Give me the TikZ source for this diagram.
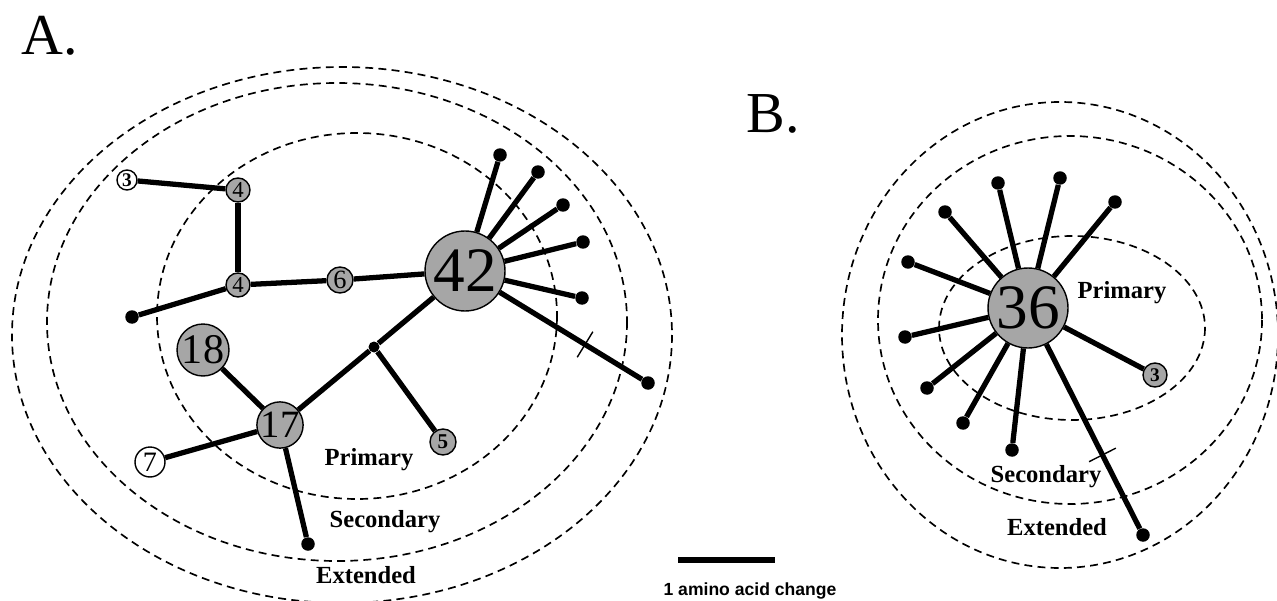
\documentclass[tikz,border=0pt]{standalone}
\usepackage{fontspec}
\setmainfont{Liberation Serif}
\setsansfont{Liberation Sans}
\usetikzlibrary{positioning}
\definecolor{HapGray}{HTML}{A6A6A6}

\begin{document}
\begin{tikzpicture}[x=0.02cm, y=-0.02cm, hapnode/.style={circle, draw, line width=0.8pt, fill=HapGray, inner sep=0pt}, hapwhite/.style={hapnode, fill=white}, tipdot/.style={circle, fill=black, inner sep=0pt, minimum size=0.27cm}, jdot/.style={tipdot, minimum size=0.22cm}, link/.style={line width=3pt}, zone/.style={dashed, dash pattern=on 4.5pt off 3pt, line width=0.95pt}, zonelabel/.style={font=\bfseries\fontsize{14}{14}\selectfont}, tickmark/.style={sloped, draw, line width=0.8pt, inner sep=0pt, minimum width=0pt, minimum height=0.6cm}, panel/.style={font=\fontsize{33}{33}\selectfont}]
\useasboundingbox (0,0) rectangle (1277,601);
\draw[zone] (357,316) ellipse [x radius=200, y radius=183];
\draw[zone] (337,322) ellipse [x radius=290, y radius=239];
\draw[zone] (342,335) ellipse [x radius=330, y radius=268];
\draw[zone] (1072,328) ellipse [x radius=133, y radius=92];
\draw[zone] (1070,320) ellipse [x radius=192, y radius=184];
\draw[zone] (1060,335) ellipse [x radius=218, y radius=233];
\node[panel] (lblA) at (50,36) {A.};
\node[panel] (lblB) at (773,114) {B.};
\node[hapwhite, minimum size=0.4cm, font=\bfseries\fontsize{11}{11}\selectfont] (h3) at (127,180) {3};
\node[hapnode, minimum size=0.48cm, font=\fontsize{13}{13}\selectfont] (h4a) at (238,190) {4};
\node[hapnode, minimum size=0.48cm, font=\fontsize{13}{13}\selectfont] (h4b) at (238,285) {4};
\node[hapnode, minimum size=0.52cm, font=\fontsize{15}{15}\selectfont] (h6) at (340,280) {6};
\node[hapnode, minimum size=1.6cm, font=\fontsize{36}{36}\selectfont] (h42) at (465,271) {42};
\node[hapnode, minimum size=1.04cm, font=\fontsize{24}{24}\selectfont] (h18) at (203,350) {18};
\node[hapnode, minimum size=0.92cm, font=\fontsize{22}{22}\selectfont] (h17) at (280,425) {17};
\node[hapwhite, minimum size=0.6cm, font=\fontsize{16}{16}\selectfont] (h7) at (150,462) {7};
\node[hapnode, minimum size=0.52cm, font=\bfseries\fontsize{12}{12}\selectfont] (h5) at (443,442) {5};
\node[tipdot] (d1) at (132,317) {};
\node[tipdot] (d2) at (308,544) {};
\node[jdot] (j1) at (374,347) {};
\node[tipdot] (a1) at (500,155) {};
\node[tipdot] (a2) at (538,172) {};
\node[tipdot] (a3) at (563,205) {};
\node[tipdot] (a4) at (583,242) {};
\node[tipdot] (a5) at (582,298) {};
\node[tipdot] (a6) at (648,383) {};
\node[hapnode, minimum size=1.6cm, font=\fontsize{36}{36}\selectfont] (h36) at (1028,308) {36};
\node[hapnode, minimum size=0.48cm, font=\bfseries\fontsize{11}{11}\selectfont] (hb3) at (1155,375) {3};
\node[tipdot] (b1) at (998,183) {};
\node[tipdot] (b2) at (1060,178) {};
\node[tipdot] (b3) at (1115,202) {};
\node[tipdot] (b4) at (945,212) {};
\node[tipdot] (b5) at (908,262) {};
\node[tipdot] (b6) at (905,337) {};
\node[tipdot] (b7) at (927,388) {};
\node[tipdot] (b8) at (963,423) {};
\node[tipdot] (b9) at (1012,450) {};
\node[tipdot] (b10) at (1143,535) {};
\draw[link] (h3) -- (h4a);
\draw[link] (h4a) -- (h4b);
\draw[link] (h4b) -- (d1);
\draw[link] (h4b) -- (h6);
\draw[link] (h6) -- (h42);
\draw[link] (h42) -- (j1);
\draw[link] (j1) -- (h17);
\draw[link] (j1) -- (h5);
\draw[link] (h17) -- (h18);
\draw[link] (h17) -- (h7);
\draw[link] (h17) -- (d2);
\foreach \n in {a1,a2,a3,a4,a5}{\draw[link] (h42) -- (\n);}
\draw[link] (h42) -- node[tickmark, pos=0.6] {} (a6);
\foreach \n in {b1,b2,b3,b4,b5,b6,b7,b8,b9,hb3}{\draw[link] (h36) -- (\n);}
\draw[link] (h36) -- node[tickmark, pos=0.6] {} (b10);
\node[zonelabel] (pA) at (369,460) {Primary};
\node[zonelabel] (sA) at (385,522) {Secondary};
\node[zonelabel] (eA) at (366,575) {Extended};
\node[zonelabel] (pB) at (1122,293) {Primary};
\node[zonelabel] (sB) at (1046,477) {Secondary};
\node[zonelabel] (eB) at (1057,527) {Extended};
\coordinate (bar1) at (678,560);
\coordinate (bar2) at (775,560);
\draw[line width=3.4pt] (bar1) -- (bar2);
\node[font=\sffamily\bfseries\fontsize{10}{10}\selectfont] (barlbl) at (750,591) {1 amino acid change};
\end{tikzpicture}
\end{document}
